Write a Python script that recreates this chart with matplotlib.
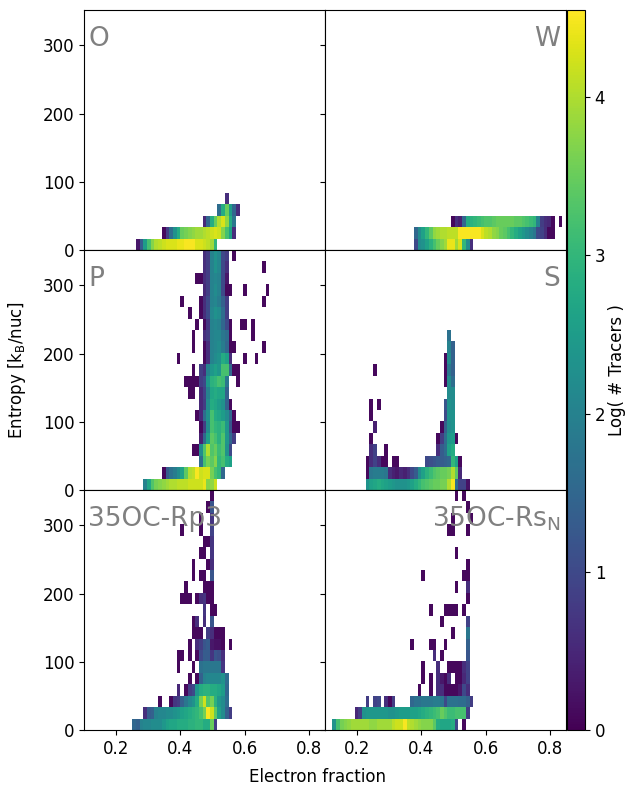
import numpy as np
import matplotlib
matplotlib.use("Agg")
import matplotlib.pyplot as plt

nan = np.nan

# ---------------- data ----------------
ye_edges = np.linspace(0.1, 0.85, 66)        # electron-fraction bins
s_edges = np.linspace(0.0, 352.0, 22)        # entropy bins (k_B/nuc)

panel_names = ["O", "W", "P", "S", "35OC-Rp3", r"35OC-Rs$_\mathrm{N}$"]
label_side = ["left", "right", "left", "right", "left", "right"]

# entropy-row index -> (Ye of first cell, log10(# tracers) of consecutive cells)
O_rows = {
    0: (0.262, [0.3, 1.3, 2.5, 3.2, 3.7, 4.0, 4.1, 4.2, 4.3, 4.3, 4.3, 4.4, 4.4, 4.5, 4.5, 4.5, 4.3, 4.3, 4.2, 4.1, 3.9, 3.0]),
    1: (0.343, [0.1, 0.8, 1.6, 2.3, 2.8, 3.5, 3.6, 3.7, 3.8, 3.9, 3.9, 4.0, 4.1, 4.2, 4.3, 4.2, 3.7, 3.2, 2.6, 0.6]),
    2: (0.474, [0.5, 1.5, 2.8, 3.5, 4.0, 4.3, 3.8, 2.8, 1.8]),
    3: (0.514, [1.6, 2.8, 3.5, 2.5, 1.5, 0.6]),
    4: (0.536, [0.6]),
}

W_rows = {
    0: (0.374, [1.0, 2.2, 2.3, 2.6, 2.9, 3.2, 3.5, 3.7, 3.9, 4.4, 4.4, 3.9, 4.3, 3.0, 2.2, 0.6]),
    1: (0.374, [1.5, 2.2, 2.6, 3.0, 3.4, 3.8, 3.9, 4.0, 4.0, 4.1, 4.1, 4.1, 4.5, 4.5, 4.5, 4.5, 4.5, 4.5, 4.3,
                4.1, 4.0, 3.8, 3.7, 3.5, 3.4, 3.2, 3.0, 2.8, 2.6, 2.4, 2.2, 2.0, 1.8, 1.0, 0.9, 0.6, 0.1, 0.1]),
    2: (0.495, [0.1, 0.6, 0.4, 1.5, 2.8, 2.9, 3.0, 3.1, 3.2, 3.3, 3.3, 3.4, 3.5, 3.5, 3.5, 3.5, 3.5, 3.4, 3.4,
                3.3, 3.2, 3.1, 3.0, 2.0, 0.8, 0.6, 0.5, 0.1, nan, 0.1]),
}

P_rows = {
    0: (0.281, [2.0, 2.7, 3.3, 3.6, 3.7, 3.8, 3.9, 4.0, 4.0, 4.1, 4.1, 4.1, 4.2, 4.2, 4.2, 4.2, 4.4, 3.7, 3.8, 4.2]),
    1: (0.343, [0.1, 1.3, 1.7, 1.9, 2.2, 2.6, 3.4, 4.0, 4.1, 4.5, 4.2, 4.3, 4.3, 3.6, 3.2, 3.0, 1.5]),
    2: (0.456, [1.6, 3.2, 3.6, 3.4, 3.7, 3.0, 3.2, 2.8, 2.6]),
    3: (0.4375, [0.1, 0.1, 2.2, 3.3, 4.0, 3.3, 3.5, 3.1, 3.3, 2.3, 1.0]),
    4: (0.456, [0.4, 1.5, 2.6, 3.4, 3.2, 2.9, 3.3, 2.4, 1.5, 0.8]),
    5: (0.456, [0.1, 0.8, 2.2, 3.2, 3.0, 2.9, 3.1, 2.4, 1.2, 0.1, 0.1]),
    6: (0.447, [0.1, 0.5, 1.6, 2.3, 3.2, 2.8, 2.7, 2.5, 2.2, 1.5, 0.1]),
    7: (0.456, [0.5, 0.8, 2.2, 2.8, 2.7, 2.5, 2.3, 1.4, 0.1]),
    8: (0.424, [0.1, 0.1, nan, 0.5, 0.9, 2.0, 2.7, 2.8, 2.7, 2.7, 1.4]),
    9: (0.415, [0.1, 0.1, 0.1, 0.1, 0.8, 1.0, 2.4, 2.9, 3.0, 3.2, 3.1, 1.8, nan, nan, 0.1]),
    10: (0.433, [0.1, nan, 0.8, 0.6, 2.0, 2.4, 2.6, 2.4, 3.2, 3.2, 1.5, 0.1, 0.1]),
    11: (0.393, [0.1, nan, nan, nan, nan, nan, nan, 0.1, 0.6, 2.0, 2.2, 2.3, 2.8, 2.6, 0.6, nan, nan, nan, 0.1, nan, nan, 0.1]),
    12: (0.433, [0.1, nan, nan, 0.1, 0.6, 2.0, 2.1, 2.2, 1.9, 1.5, 0.1, 0.1, nan, nan, nan, nan, nan, nan, nan, 0.1]),
    13: (0.433, [0.1, nan, nan, 0.6, 0.8, 2.0, 2.1, 2.1, 1.8, 1.6, 0.1, nan, nan, nan, nan, nan, 0.1]),
    14: (0.446, [0.1, nan, 0.1, 0.7, 2.0, 2.1, 2.0, 1.5, 1.0, 0.1, nan, nan, 0.1, 0.1, nan, 0.1]),
    15: (0.425, [0.1, nan, nan, 0.1, 0.6, 1.0, 2.1, 2.3, 2.2, 1.6, 0.8]),
    16: (0.404, [0.1, nan, nan, nan, nan, 0.1, 0.6, 1.0, 2.0, 2.1, 1.9, 1.4, 0.8, nan, nan, nan, nan, nan, nan, nan, nan, nan, 0.1]),
    17: (0.4645, [0.5, 0.8, 2.0, 2.2, 2.0, 1.0, 0.1, 0.1, nan, nan, nan, 0.1, nan, nan, nan, nan, nan, 0.1]),
    18: (0.446, [0.1, 0.1, 0.6, 0.8, 2.0, 2.1, 2.0, 1.0, 0.3]),
    19: (0.4645, [0.6, 0.8, 2.0, 2.3, 2.1, 1.0, 0.6, nan, nan, nan, nan, nan, nan, nan, nan, nan, 0.1]),
    20: (0.4645, [0.6, 0.8, 2.0, 2.3, 2.1, 1.0, 0.8, nan, 0.1]),
}

S_rows = {
    0: (0.2244, [2.3, 2.6, 2.7, 2.8, 2.7, 2.6, 2.5, 2.4, 2.3, 2.3, 2.3, 2.4, 2.6, 2.8, 3.0, 3.2, 3.3, 3.4, 3.5, 3.5,
                 3.6, 3.6, 4.0, 4.5, 1.6, 0.9, 0.9, 0.2]),
    1: (0.2223, [0.1, 1.8, 1.9, 1.9, 1.9, 1.8, 0.6, 0.4, 0.3, 0.5, 0.4, 0.6, 1.0, 1.3, 2.2, 2.6, 2.9, 3.1, 3.3, 3.4,
                 3.5, 3.5, 3.6, 4.0, 3.4, 0.5]),
    2: (0.2223, [0.1, 0.6, 0.9, 0.6, 0.1, 0.1, nan, 0.1, 0.1, nan, nan, nan, nan, nan, nan, nan, 1.0, 1.1, 1.2, 1.3,
                 1.3, 1.4, 1.5, 3.0, 2.6, 0.1]),
    3: (0.242, [0.6, 0.9, nan, nan, 0.1, nan, nan, nan, nan, nan, nan, nan, nan, nan, nan, nan, nan, nan, 0.6, 1.3, 1.6, 2.6, 2.8]),
    4: (0.242, [0.1, nan, nan, nan, nan, nan, nan, nan, nan, nan, nan, nan, nan, nan, nan, nan, nan, nan, 0.1, 0.8, 1.6, 2.4, 2.5, 0.1]),
    5: (0.2524, [0.4, nan, nan, nan, nan, nan, nan, nan, nan, nan, nan, nan, nan, nan, nan, nan, nan, nan, 0.1, 1.4, 2.2, 2.3]),
    6: (0.242, [0.1, nan, nan, nan, nan, nan, nan, nan, nan, nan, nan, nan, nan, nan, nan, nan, nan, nan, nan, nan, 1.0, 2.3, 2.3]),
    7: (0.242, [0.1, nan, 0.1, nan, nan, nan, nan, nan, nan, nan, nan, nan, nan, nan, nan, nan, nan, nan, nan, nan, 1.2, 2.3, 2.2]),
    8: (0.4836, [2.2, 2.2]),
    9: (0.472, [0.1, 2.2, 1.6]),
    10: (0.2524, [0.1, nan, nan, nan, nan, nan, nan, nan, nan, nan, nan, nan, nan, nan, nan, nan, nan, nan, nan, 0.1, 1.8, 1.4]),
    11: (0.472, [0.1, 2.2, 1.4]),
    12: (0.4836, [2.0, 1.4]),
    13: (0.4836, [1.7]),
}

Rp3_rows = {
    0: (0.2516, [1.5, 1.4, 2.0, 2.1, 2.1, 2.2, 2.2, 2.2, 2.4, 2.6, 2.7, 2.7, 2.8, 2.8, 2.8, 2.9, 2.9, 3.0, 3.0, 2.8, 2.8, 3.5, 0.8]),
    1: (0.2807, [0.6, 1.3, 1.4, 2.0, 2.1, 2.1, 2.2, 2.2, 2.3, 2.4, 2.6, 2.7, 2.8, 2.9, 3.0, 3.2, 3.6, 4.5, 4.2, 3.4, 2.6, 2.2, 1.4, 0.8]),
    2: (0.3336, [0.1, nan, nan, 0.1, 0.7, 0.8, 1.4, 1.8, 2.1, 2.3, 2.8, 3.6, 4.2, 3.3, 3.6, 2.9, 2.4, 2.2, 1.6]),
    3: (0.3939, [0.5, nan, 0.1, 0.8, 1.0, 2.4, 2.8, 2.9, 2.9, 2.8, 2.8, 2.7, 2.5, 1.5]),
    4: (0.425, [0.1, nan, 0.1, 1.4, 2.0, 2.1, 2.1, 2.1, 2.1, 2.3, 1.6]),
    5: (0.3939, [0.1, nan, nan, nan, 0.1, nan, 1.7, 1.8, 1.8, 1.8, 1.8, 1.8, 0.7]),
    6: (0.3939, [0.1, 0.1, nan, 0.1, nan, 0.1, 1.0, 1.3, 1.3, 0.7, 1.2, 1.1, 0.6]),
    7: (0.425, [0.1, nan, 0.6, 0.8, 1.2, 1.3, 0.3, 0.2, 0.2, 0.1, nan, 0.1]),
    8: (0.4354, [0.1, 0.1, 0.1, nan, 0.8, 0.6, 0.1, 0.1, 0.1]),
    9: (0.4354, [0.1, 0.6, nan, 0.6, nan, 1.2]),
    10: (0.4666, [0.7, nan, 0.1, 0.1]),
    11: (0.4043, [0.1, 0.1, 0.1, nan, 0.1, 0.6, 0.7, 0.1, 0.1]),
    12: (0.4146, [0.1, nan, nan, nan, nan, 0.1, 0.1, 0.1]),
    13: (0.4354, [0.1, nan, 0.1, 0.1, nan, 1.2]),
    14: (0.4354, [0.1, nan, nan, nan, 0.1, 0.6]),
    15: (0.4562, [0.1, 0.1, nan, 0.7]),
    16: (0.4666, [0.1, 0.1, 0.7]),
    17: (0.4043, [0.1, nan, nan, nan, nan, 0.1, nan, nan, 0.9]),
    18: (0.4562, [0.1, nan, nan, 0.7]),
    19: (0.481, [0.1, 1.2]),
    20: (0.4977, [0.1]),
}

RsN_rows = {
    0: (0.1207, [2.3, 3.2, 3.6, 3.7, 3.8, 3.9, 3.9, 3.9, 3.9, 3.9, 3.8, 3.8, 3.9, 3.9, 3.9, 3.9, 4.1, 4.2, 4.2, 4.5,
                 4.1, 4.0, 3.9, 3.8, 3.7, 3.7, 3.7, 3.4, 2.8, 2.7, 2.7, 2.7, 2.8, 1.0, nan, 0.1]),
    1: (0.1933, [0.5, 0.8, 2.3, 2.4, 2.4, 2.4, 2.4, 2.4, 2.4, 2.3, 2.3, 2.4, 2.5, 2.5, 2.5, 2.6, 2.6, 2.7, 2.8, 2.9,
                 3.0, 3.1, 3.2, 3.5, 3.3, 3.1, 3.1, 3.2, 3.2, 3.2, 0.8]),
    2: (0.2223, [0.8, nan, 0.9, 1.0, nan, 0.6, 0.1, 0.8, nan, nan, nan, nan, 1.5, 1.7, 1.7, 1.8, 1.8, 1.8, 1.9, 1.9,
                 1.8, 1.0, 1.7, 1.7, 1.7, 1.6, 1.6, 1.4, 0.8]),
    3: (0.383, [0.1, nan, nan, 0.1, nan, 0.6, 0.6, 0.1, 0.1, 0.1, 0.1, 0.3, 1.0, 0.6]),
    4: (0.3955, [0.1, nan, 0.1, nan, 0.6, 0.3, 0.1, 0.6, nan, 0.1, 0.1, 0.5, 0.9]),
    5: (0.3955, [0.1, nan, nan, nan, 0.6, nan, nan, 0.1, 0.1, 0.1, 0.1, 0.6, 0.9]),
    6: (0.437, [0.6, nan, 0.1, nan, nan, nan, nan, nan, nan, 1.2]),
    7: (0.3644, [0.1, nan, nan, nan, nan, 0.1, 0.1, nan, nan, 0.1, nan, nan, nan, nan, nan, 1.4]),
    8: (0.4888, [0.1, nan, nan, nan, 1.8]),
    9: (0.4577, [0.1, nan, nan, nan, nan, nan, nan, 0.9]),
    10: (0.4235, [0.1, nan, nan, nan, 0.1, 0.1, 0.1, 0.1, nan, 0.1]),
    11: (0.540, [0.1]),
    12: (0.5044, [0.1, nan, nan, 0.6]),
    13: (0.3955, [0.1, nan, nan, nan, nan, nan, nan, nan, nan, nan, nan, 0.1, 0.1]),
    14: (0.5355, [0.1]),
    15: (0.5044, [0.1]),
    17: (0.4857, [0.1, 0.1, nan, nan, nan, 0.1]),
    18: (0.494, [0.1, nan, nan, nan, nan, 0.1]),
    19: (0.5355, [0.1]),
    20: (0.5044, [0.1, nan, 0.1]),
}

panel_rows = [O_rows, W_rows, P_rows, S_rows, Rp3_rows, RsN_rows]

x_ticks = [0.2, 0.4, 0.6, 0.8]
y_ticks = [0, 100, 200, 300]
cbar_ticks = [0, 1, 2, 3, 4]
vmin, vmax = 0.0, 4.55


def build_grid(rows):
    nx = len(ye_edges) - 1
    ny = len(s_edges) - 1
    dx = ye_edges[1] - ye_edges[0]
    H = np.full((ny, nx), np.nan)
    for r, (x0, vals) in rows.items():
        i0 = int(round((x0 - ye_edges[0]) / dx))
        for k, v in enumerate(vals):
            if 0 <= i0 + k < nx:
                H[r, i0 + k] = v
    return np.ma.masked_invalid(H)


# ---------------- figure ----------------
plt.rcParams['font.family'] = ['DejaVu Sans']
fig = plt.figure(figsize=(6.25, 7.88), dpi=100)
gs = fig.add_gridspec(3, 2, left=0.1344, right=0.9056, bottom=0.0736, top=0.9873,
                      hspace=0.0, wspace=0.0)

mesh = None
for idx in range(6):
    r, c = divmod(idx, 2)
    ax = fig.add_subplot(gs[r, c])
    H = build_grid(panel_rows[idx])
    mesh = ax.pcolormesh(ye_edges, s_edges, H, cmap='viridis', vmin=vmin, vmax=vmax)
    ax.set_xlim(0.1, 0.85)
    ax.set_ylim(0, 352)
    ax.set_xticks(x_ticks)
    ax.set_yticks(y_ticks)
    ax.tick_params(labelsize=12)
    if c == 1:
        ax.tick_params(labelleft=False)
    if r < 2:
        ax.tick_params(labelbottom=False)
    if label_side[idx] == "left":
        ax.text(0.018, 0.848, panel_names[idx], transform=ax.transAxes, ha='left', va='baseline',
                fontsize=19, color='#808080')
    else:
        ax.text(0.977, 0.848, panel_names[idx], transform=ax.transAxes, ha='right', va='baseline',
                fontsize=19, color='#808080')

cax = fig.add_axes([567 / 625, 0.0736, 18 / 625, 0.9137])
cb = fig.colorbar(mesh, cax=cax, ticks=cbar_ticks)
cb.ax.tick_params(labelsize=12)
cb.set_label('Log( # Tracers )', fontsize=12, labelpad=2)

fig.text(17 / 625, 0.5305, r'Entropy [k$_\mathrm{B}$/nuc]', rotation=90, ha='center', va='center', fontsize=12)
fig.text(0.508, 1 - 777 / 788, 'Electron fraction', ha='center', va='center', fontsize=12)

fig.savefig('out.png', dpi=100)
